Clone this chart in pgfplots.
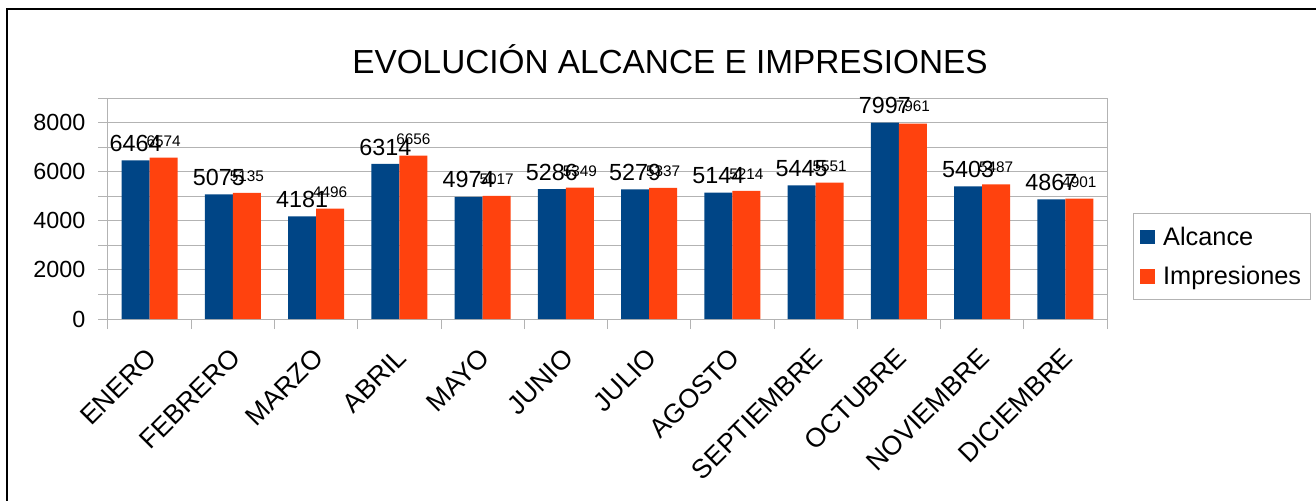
\documentclass[border=0pt]{standalone}
\usepackage{pgfplots}
\pgfplotsset{compat=1.18}
\usepackage{fontspec}
\setmainfont{Liberation Sans}
\definecolor{cblue}{HTML}{004586}
\definecolor{corange}{HTML}{FF420E}
\definecolor{gridc}{HTML}{B3B3B3}
\begin{document}
\begin{tikzpicture}
\useasboundingbox (0pt,0pt) rectangle (987pt,375pt);
\draw[line width=1.5pt] (5.25pt,-5pt) -- (5.25pt,368.25pt) -- (995pt,368.25pt);
\node[font=\fontsize{25}{30}\selectfont] at (502.5pt,330.75pt) {EVOLUCIÓN ALCANCE E IMPRESIONES};
\begin{axis}[
  at={(81pt,135.75pt)}, anchor=south west, scale only axis,
  width=749.25pt, height=165.75pt,
  ymin=0, ymax=9000, xmin=-0.5, xmax=11.5,
  ybar=0pt, bar width=21pt,
  axis line style={gridc, line width=0.75pt},
  ytick={0,2000,4000,6000,8000},
  minor ytick={1000,3000,5000,7000,9000},
  ymajorgrids, yminorgrids,
  major grid style={gridc, line width=0.75pt},
  minor grid style={gridc, line width=0.75pt},
  tick align=outside, major tick length=7.5pt, minor tick length=7.5pt,
  ytick style={gridc, line width=0.75pt},
  ytick pos=left, xtick pos=bottom,
  xtick={0,...,11},
  xticklabels={ENERO,FEBRERO,MARZO,ABRIL,MAYO,JUNIO,JULIO,AGOSTO,SEPTIEMBRE,OCTUBRE,NOVIEMBRE,DICIEMBRE},
  xtick style={draw=none},
  extra x ticks={-0.5,0.5,1.5,2.5,3.5,4.5,5.5,6.5,7.5,8.5,9.5,10.5,11.5},
  extra x tick labels={},
  extra x tick style={xtick style={draw=gridc, line width=0.75pt}},
  x tick label style={rotate=45, anchor=east, font=\fontsize{20}{20}\selectfont, yshift=-14pt, xshift=-8pt},
  y tick label style={font=\fontsize{17.5}{17.5}\selectfont, xshift=-6pt},
  /pgf/number format/.cd, 1000 sep={}, assume math mode=true, /pgfplots/.cd,
  legend style={at={(1.026,0.4796)}, anchor=north west, draw=gridc, line width=0.75pt,
    font=\fontsize{19}{21}\selectfont, inner xsep=5pt, inner ysep=8pt, row sep=10pt, column sep=4pt},
  legend cell align=left,
  legend image code/.code={\fill (0pt,-5.6pt) rectangle (11.25pt,5.6pt);},
  clip=false,
]
\addplot[fill=cblue, draw=none, nodes near coords,
  every node near coord/.append style={font=\fontsize{17.5}{17.5}\selectfont, text=black, yshift=3pt}]
  coordinates {(0,6464) (1,5075) (2,4181) (3,6314) (4,4974) (5,5286) (6,5279) (7,5144) (8,5445) (9,7997) (10,5403) (11,4867)};
\addplot[fill=corange, draw=none, nodes near coords,
  every node near coord/.append style={font=\fontsize{11.5}{11.5}\selectfont, text=black, yshift=5pt}]
  coordinates {(0,6574) (1,5135) (2,4496) (3,6656) (4,5017) (5,5349) (6,5337) (7,5214) (8,5551) (9,7961) (10,5487) (11,4901)};
\legend{Alcance, Impresiones}
\end{axis}
\end{tikzpicture}
\end{document}
